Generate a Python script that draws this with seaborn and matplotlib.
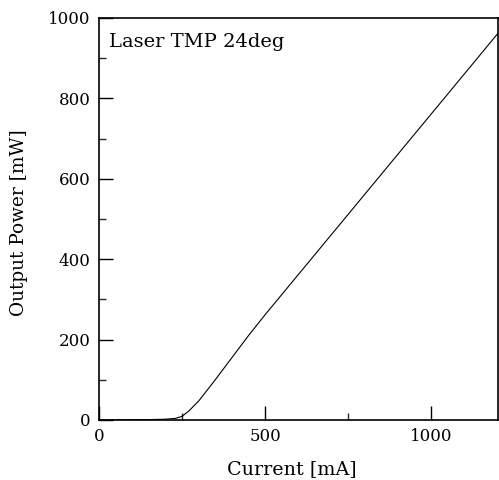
import matplotlib
matplotlib.use("Agg")
import matplotlib.pyplot as plt
import seaborn as sns
import pandas as pd
from matplotlib.ticker import MultipleLocator

current_ma = [0, 50, 100, 150, 200, 230, 250, 270, 300, 350, 400, 450, 500, 600, 700, 800, 900, 1000, 1100, 1200]
power_mw = [0, 0.3, 0.6, 1.0, 2.0, 4.0, 9.0, 22, 47, 100, 155, 210, 262, 362, 462, 562, 662, 762, 862, 962]

df = pd.DataFrame({"Current [mA]": current_ma, "Output Power [mW]": power_mw})

sns.set_style("ticks")
plt.rcParams['font.family'] = ['DejaVu Serif']
plt.rcParams['text.color'] = 'black'
plt.rcParams['axes.labelcolor'] = 'black'

fig = plt.figure(figsize=(4.99, 4.8), dpi=100)
ax = fig.add_axes([0.198, 0.125, 0.800, 0.8375])
sns.lineplot(data=df, x="Current [mA]", y="Output Power [mW]", ax=ax, color="black", linewidth=0.8)

ax.set_xlim(0, 1200)
ax.set_ylim(0, 1000)
ax.xaxis.set_major_locator(MultipleLocator(500))
ax.xaxis.set_minor_locator(MultipleLocator(250))
ax.yaxis.set_major_locator(MultipleLocator(200))
ax.yaxis.set_minor_locator(MultipleLocator(100))
ax.tick_params(which="major", direction="in", length=10, width=1, labelsize=12, colors="black", pad=6)
ax.tick_params(which="minor", direction="in", length=5, width=1)
for s in ax.spines.values():
    s.set_linewidth(1.2)
    s.set_color("black")
ax.set_xlabel("Current [mA]", fontsize=13.8, color="black")
ax.set_ylabel("Output Power [mW]", fontsize=13.3, color="black")
ax.xaxis.set_label_coords(0.484, -0.10)
ax.yaxis.set_label_coords(-0.177, 0.49)
ax.text(0.025, 0.962, "Laser TMP 24deg", transform=ax.transAxes, fontsize=14, va="top", ha="left", color="black")

fig.savefig("out.png", dpi=100)
